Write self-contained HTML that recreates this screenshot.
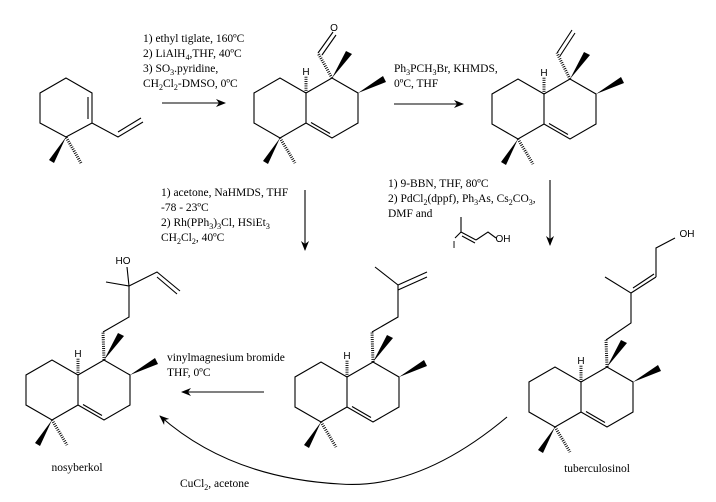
<!DOCTYPE html>
<html><head><meta charset="utf-8"><style>
html,body{margin:0;padding:0;background:#fff;}
svg{display:block;}
.t{font-family:"Liberation Serif",serif;font-size:11.5px;fill:#000;}
.s{font-family:"Liberation Sans",sans-serif;font-size:10px;fill:#000;}
</style></head><body>
<svg width="716" height="502" viewBox="0 0 716 502" xmlns="http://www.w3.org/2000/svg">
<defs>
<marker id="ah" markerWidth="10" markerHeight="8" refX="9" refY="4" orient="auto" markerUnits="userSpaceOnUse">
<path d="M0,0 L10,4 L0,8 L3,4 Z" fill="#000"/></marker>
<g id="dec">
<path d="M0,0 L-26,-15 L-52,0 L-52,30 L-26,45 L0,30 Z M0,0 L26,-15 L52,0 L52,30 L26,45 L0,30 M5,29.5 L24,40.5" fill="none" stroke="#000" stroke-width="1.1"/>
<polygon points="-26,45 -43,68 -38,71" fill="#000"/>
<line x1="-26" y1="45" x2="-11" y2="70" stroke="#000" stroke-width="3" stroke-dasharray="0.9,1.3"/>
<line x1="0" y1="0" x2="0" y2="-17" stroke="#000" stroke-width="3" stroke-dasharray="0.9,1.3"/>
<polygon points="52,0 77,-17 80,-11" fill="#000"/>
<polygon points="26,-15 40,-42 46,-39" fill="#000"/>
</g>
</defs>
<g fill="none" stroke="#000" stroke-width="1.1">
<!-- starting material -->
<path d="M66,78 L40,93 L40,123 L66,137 L92,123 L92,93 Z M88,97 L88,119 M92,123 L118,137 L143,122 M118,132 L141,118"/>
<!-- arrows -->
<line x1="162" y1="103" x2="225" y2="103" marker-end="url(#ah)"/>
<line x1="394" y1="104" x2="463" y2="104" marker-end="url(#ah)"/>
<line x1="305" y1="190" x2="305" y2="250" marker-end="url(#ah)"/>
<line x1="550" y1="180" x2="550" y2="245" marker-end="url(#ah)"/>
<line x1="264" y1="392" x2="182" y2="392" marker-end="url(#ah)"/>
<path d="M507,417 Q420,490 340,484 Q230,478 160,416" marker-end="url(#ah)"/>
<!-- aldehyde -->
<path d="M318,53 L333,32 M322,55 L336,35"/>
<!-- vinyl str2 -->
<path d="M557,53 L572,30 M560,56 L575,33"/>
<!-- str3 chain -->
<path d="M372,332 L398,317 L398,285 L375,267 M398,285 L427,272 M398,290 L427,277"/>
<!-- str4 chain -->
<path d="M606,340 L631,323 L631,293 L605,277 M631,293 L656,277 M633,288 L654,274 M656,277 L656,248 L675,238"/>
<!-- str5 chain -->
<path d="M103,332 L129,317 L129,286 L106,282 M129,286 L127,267 M129,286 L157,272 L180,291 M157,277 L177,294"/>
<!-- small vinyl iodide -->
<path d="M461,232 L461,217 M461,232 L455,238 M461,232 L476,240 M462,236 L475,243 M476,240 L488,232 L496,238"/>
</g>
<g fill="none" stroke="#000" stroke-width="3" stroke-dasharray="0.9,1.3">
<line x1="81" y1="163" x2="66" y2="137"/>
<line x1="332" y1="78" x2="318" y2="53"/>
<line x1="570" y1="79" x2="557" y2="53"/>
<line x1="373" y1="362" x2="372" y2="332"/>
<line x1="607" y1="367" x2="606" y2="340"/>
<line x1="104" y1="360" x2="103" y2="332"/>
</g>
<polygon points="66,137 49,160 54,163" fill="#000"/>
<use href="#dec" x="306" y="93"/>
<use href="#dec" x="544" y="94"/>
<use href="#dec" x="347" y="377"/>
<use href="#dec" x="581" y="382"/>
<use href="#dec" x="78" y="375"/>
<g class="s" text-anchor="middle">
<text x="306" y="75">H</text><text x="544" y="76">H</text><text x="347" y="359">H</text><text x="581" y="364">H</text><text x="78" y="357">H</text>
<text x="334" y="31">O</text>
<text x="123" y="264">HO</text>
<text x="687" y="237">OH</text>
<text x="454" y="248">I</text>
<text x="503" y="242">OH</text>
</g>
<g class="t">
<text x="143" y="42">1) ethyl tiglate, 160ºC</text>
<text x="143" y="57">2) LiAlH<tspan font-size="8" dy="3">4</tspan><tspan dy="-3">,THF, 40ºC</tspan></text>
<text x="143" y="72">3) SO<tspan font-size="8" dy="3">3</tspan><tspan dy="-3">.pyridine,</tspan></text>
<text x="143" y="87">CH<tspan font-size="8" dy="3">2</tspan><tspan dy="-3">Cl</tspan><tspan font-size="8" dy="3">2</tspan><tspan dy="-3">-DMSO, 0ºC</tspan></text>
<text x="394" y="72">Ph<tspan font-size="8" dy="3">3</tspan><tspan dy="-3">PCH</tspan><tspan font-size="8" dy="3">3</tspan><tspan dy="-3">Br, KHMDS,</tspan></text>
<text x="394" y="87">0ºC, THF</text>
<text x="161" y="196">1) acetone, NaHMDS, THF</text>
<text x="161" y="211">-78 - 23ºC</text>
<text x="161" y="226">2) Rh(PPh<tspan font-size="8" dy="3">3</tspan><tspan dy="-3">)</tspan><tspan font-size="8" dy="3">3</tspan><tspan dy="-3">Cl, HSiEt</tspan><tspan font-size="8" dy="3">3</tspan></text>
<text x="161" y="241">CH<tspan font-size="8" dy="3">2</tspan><tspan dy="-3">Cl</tspan><tspan font-size="8" dy="3">2</tspan><tspan dy="-3">, 40ºC</tspan></text>
<text x="388" y="187">1) 9-BBN, THF, 80ºC</text>
<text x="388" y="202">2) PdCl<tspan font-size="8" dy="3">2</tspan><tspan dy="-3">(dppf), Ph</tspan><tspan font-size="8" dy="3">3</tspan><tspan dy="-3">As, Cs</tspan><tspan font-size="8" dy="3">2</tspan><tspan dy="-3">CO</tspan><tspan font-size="8" dy="3">3</tspan><tspan dy="-3">,</tspan></text>
<text x="388" y="217">DMF and</text>
<text x="167" y="361">vinylmagnesium bromide</text>
<text x="167" y="376">THF, 0ºC</text>
<text x="180" y="487">CuCl<tspan font-size="8" dy="3">2</tspan><tspan dy="-3">, acetone</tspan></text>
<text x="77" y="471" text-anchor="middle">nosyberkol</text>
<text x="597" y="472" text-anchor="middle">tuberculosinol</text>
</g>
</svg>
</body></html>
